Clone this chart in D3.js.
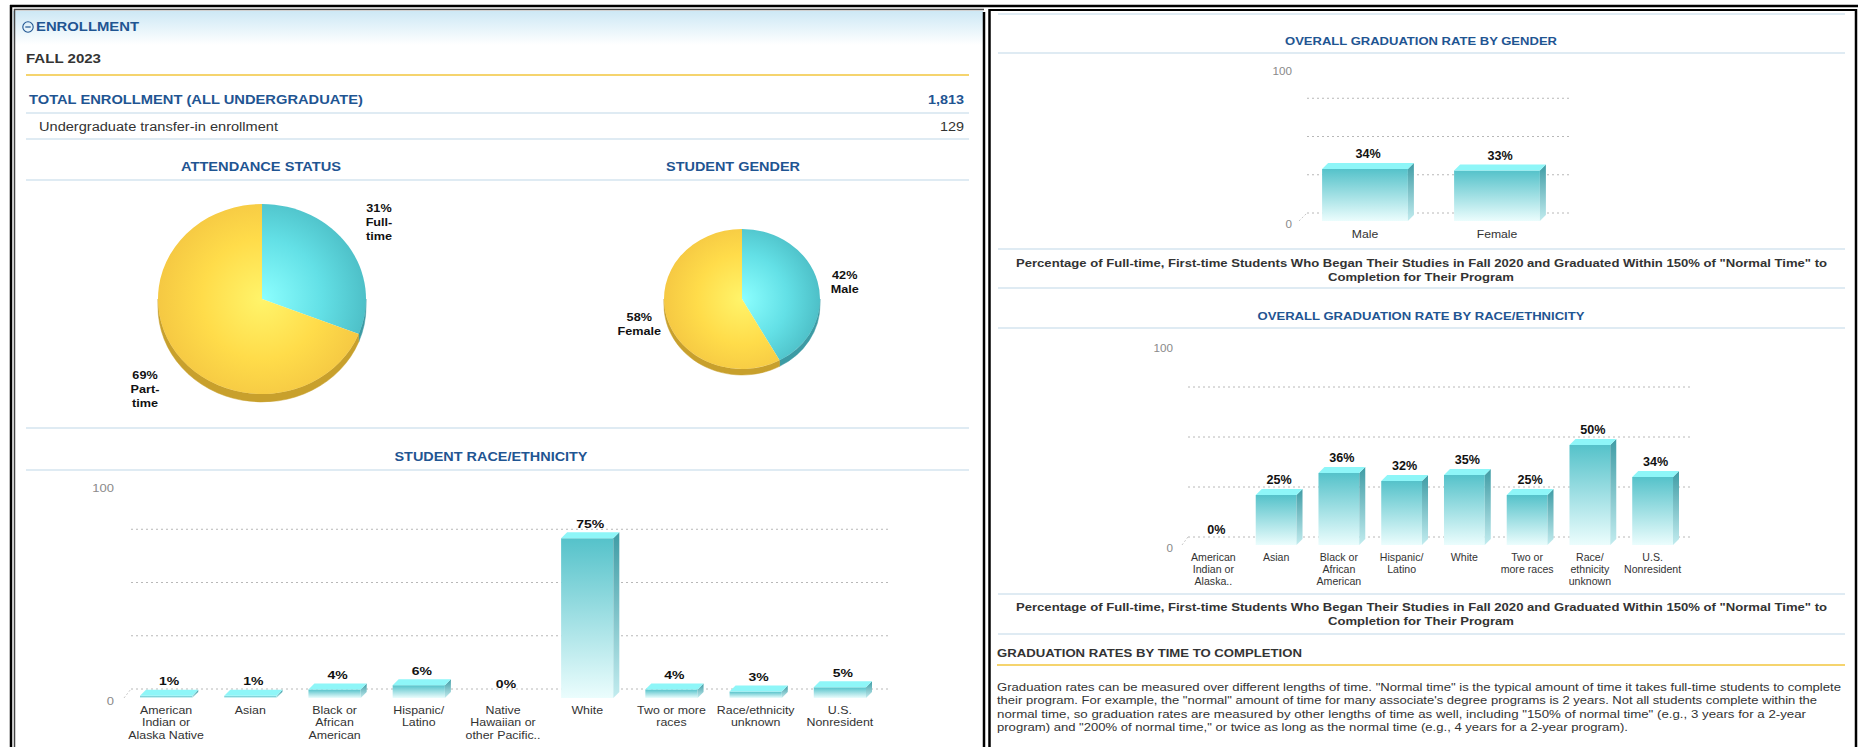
<!DOCTYPE html>
<html><head><meta charset="utf-8">
<script src="https://cdn.jsdelivr.net/npm/d3@7"></script>
<style>html,body{margin:0;padding:0;background:#fff;}svg{display:block;font-family:"Liberation Sans",Arial,sans-serif;}</style>
</head><body>
<svg id="c" width="1858" height="747"></svg>
<script>
// ---------------- DATA ----------------
const attendanceLabels = ["Full-\ntime", "Part-\ntime"];
const attendanceValues = [31, 69];
const genderLabels = ["Male", "Female"];
const genderValues = [42, 58];
const raceCategories = ["American\nIndian or\nAlaska Native", "Asian", "Black or\nAfrican\nAmerican", "Hispanic/\nLatino", "Native\nHawaiian or\nother Pacific..", "White", "Two or more\nraces", "Race/ethnicity\nunknown", "U.S.\nNonresident"];
const raceValues = [1, 1, 4, 6, 0, 75, 4, 3, 5];
const gradGenderCategories = ["Male", "Female"];
const gradGenderValues = [34, 33];
const gradRaceCategories = ["American\nIndian or\nAlaska..", "Asian", "Black or\nAfrican\nAmerican", "Hispanic/\nLatino", "White", "Two or\nmore races", "Race/\nethnicity\nunknown", "U.S.\nNonresident"];
const gradRaceValues = [0, 25, 36, 32, 35, 25, 50, 34];
const yTickLabels = [0, 100];
const gridValues = [0, 25, 50, 75];
const totalEnrollment = "1,813";
const transferIn = "129";
const footnoteLines = ["Percentage of Full-time, First-time Students Who Began Their Studies in Fall 2020 and Graduated Within 150% of \"Normal Time\" to", "Completion for Their Program"];
const paragraphLines = [
  "Graduation rates can be measured over different lengths of time. \"Normal time\" is the typical amount of time it takes full-time students to complete",
  "their program. For example, the \"normal\" amount of time for many associate's degree programs is 2 years. Not all students complete within the",
  "normal time, so graduation rates are measured by other lengths of time as well, including \"150% of normal time\" (e.g., 3 years for a 2-year",
  "program) and \"200% of normal time,\" or twice as long as the normal time (e.g., 4 years for a 2-year program)."
];

// ---------------- HELPERS ----------------
const svg = d3.select("#c");
const BLUE = "#1f5592", DARK = "#333", LINE = "#d4e5ef";
const defs = svg.append("defs");

function txt(p, o) {
  const t = p.append("text").text(o.text)
    .attr("font-size", o.size || 12)
    .attr("font-weight", o.bold ? "bold" : "normal")
    .attr("fill", o.fill || DARK)
    .attr("text-anchor", o.anchor || "start")
    .attr("dominant-baseline", "central");
  if (o.w) {
    t.attr("x", o.x).attr("y", o.y).attr("textLength", o.w).attr("lengthAdjust", "spacingAndGlyphs");
  } else {
    t.attr("transform", `translate(${o.x},${o.y}) scale(${o.sx || 1},1)`);
  }
  return t;
}
function hline(x1, x2, y, color, w) {
  svg.append("line").attr("x1", x1).attr("x2", x2).attr("y1", y).attr("y2", y)
    .attr("stroke", color).attr("stroke-width", w || 1.5);
}
function grad(id, stops, vertical, radial, extra) {
  const g = radial ? defs.append("radialGradient") : defs.append("linearGradient");
  g.attr("id", id);
  if (!radial) g.attr("x1", 0).attr("y1", 0).attr("x2", vertical ? 0 : 1).attr("y2", vertical ? 1 : 0);
  if (extra) Object.entries(extra).forEach(([k, v]) => g.attr(k, v));
  stops.forEach(s => g.append("stop").attr("offset", s[0]).attr("stop-color", s[1]));
}

// gradients
grad("hdr", [[0, "#cde8f5"], [1, "#ffffff"]], true);
grad("barFront", [[0, "#55c2ca"], [1, "#ebfdfd"]], true);
grad("barSide", [[0, "#3f9ca5"], [1, "#c2ecef"]], true);

// ---------------- FRAMES ----------------
svg.append("rect").attr("x", 13).attr("y", 11).attr("width", 970).attr("height", 34).attr("fill", "url(#hdr)");
svg.append("line").attr("x1", 10).attr("x2", 1858).attr("y1", 6).attr("y2", 6).attr("stroke", "#000").attr("stroke-width", 2.5);
svg.append("line").attr("x1", 11).attr("x2", 11).attr("y1", 5).attr("y2", 747).attr("stroke", "#000").attr("stroke-width", 2.5);
svg.append("line").attr("x1", 14.5).attr("x2", 14.5).attr("y1", 9).attr("y2", 747).attr("stroke", "#444").attr("stroke-width", 1.5);
svg.append("line").attr("x1", 14).attr("x2", 984).attr("y1", 9.5).attr("y2", 9.5).attr("stroke", "#444").attr("stroke-width", 1.5);
svg.append("line").attr("x1", 984).attr("x2", 984).attr("y1", 12).attr("y2", 747).attr("stroke", "#000").attr("stroke-width", 2.5);
svg.append("line").attr("x1", 989.5).attr("x2", 989.5).attr("y1", 9).attr("y2", 747).attr("stroke", "#000").attr("stroke-width", 2.5);
svg.append("line").attr("x1", 989).attr("x2", 1857).attr("y1", 10).attr("y2", 10).attr("stroke", "#000").attr("stroke-width", 2);
svg.append("line").attr("x1", 1856).attr("x2", 1856).attr("y1", 9).attr("y2", 747).attr("stroke", "#000").attr("stroke-width", 2.5);

// ---------------- LEFT PANEL HEADER ----------------
svg.append("circle").attr("cx", 28).attr("cy", 27).attr("r", 5.2).attr("fill", "none").attr("stroke", BLUE).attr("stroke-width", 1.1);
svg.append("line").attr("x1", 25.3).attr("x2", 30.7).attr("y1", 27).attr("y2", 27).attr("stroke", BLUE).attr("stroke-width", 1.2);
txt(svg, {text: "ENROLLMENT", x: 36, y: 27, size: 12.5, bold: true, fill: BLUE, w: 103});
txt(svg, {text: "FALL 2023", x: 26, y: 59, size: 12, bold: true, fill: DARK, w: 75});
hline(26, 969, 75, "#f5d46e", 2);
txt(svg, {text: "TOTAL ENROLLMENT (ALL UNDERGRADUATE)", x: 29, y: 100, size: 12, bold: true, fill: BLUE, w: 334});
txt(svg, {text: totalEnrollment, x: 964, y: 100, size: 12, bold: true, fill: BLUE, anchor: "end", sx: 1.2});
hline(26, 969, 113, LINE, 1.5);
txt(svg, {text: "Undergraduate transfer-in enrollment", x: 39, y: 127, size: 12, fill: DARK, w: 239});
txt(svg, {text: transferIn, x: 964, y: 127, size: 12, fill: DARK, anchor: "end", sx: 1.2});
hline(26, 969, 139, LINE, 1.5);

txt(svg, {text: "ATTENDANCE STATUS", x: 261, y: 167, size: 12.5, bold: true, fill: BLUE, anchor: "middle", w: 160});
txt(svg, {text: "STUDENT GENDER", x: 733, y: 167, size: 12.5, bold: true, fill: BLUE, anchor: "middle", w: 134});
hline(26, 969, 180, LINE, 1.5);
hline(26, 969, 428, LINE, 1.5);
txt(svg, {text: "STUDENT RACE/ETHNICITY", x: 491, y: 457, size: 12.5, bold: true, fill: BLUE, anchor: "middle", w: 193});
hline(26, 969, 470, LINE, 1.5);

// ---------------- 3D PIES ----------------
const pieTopColors = [
  ["#8cffff", "#63e0e6", "#4bbcc4"],
  ["#fff46a", "#ffdc4a", "#f4c642"]
];
const pieSideColors = ["#3c9ba4", "#c8a02c"];

function drawPie3D(id, cfg, values, labels) {
  const g = svg.append("g");
  const {cx, cy, rx, ry, depth} = cfg;
  const arcs = d3.pie().sort(null)(values);
  const P = (a, dy) => [cx + rx * Math.sin(a), cy - ry * Math.cos(a) + (dy || 0)];
  arcs.forEach((d, i) => {
    grad(id + "g" + i, [[0, pieTopColors[i][0]], [0.55, pieTopColors[i][1]], [1, pieTopColors[i][2]]], false, true,
      {gradientUnits: "userSpaceOnUse", cx: cx, cy: cy, r: rx * 1.05, fx: cx, fy: cy});
  });
  arcs.forEach((d, i) => {
    const a0 = Math.max(d.startAngle, Math.PI / 2), a1 = Math.min(d.endAngle, 3 * Math.PI / 2);
    if (a1 <= a0) return;
    const p0 = P(a0), p1 = P(a1), q1 = P(a1, depth), q0 = P(a0, depth);
    g.append("path").attr("d",
      `M${p0}A${rx},${ry} 0 0 1 ${p1}L${q1}A${rx},${ry} 0 0 0 ${q0}Z`)
      .attr("fill", pieSideColors[i]).attr("stroke", pieSideColors[i]).attr("stroke-width", 0.5);
  });
  arcs.forEach((d, i) => {
    const p0 = P(d.startAngle), p1 = P(d.endAngle);
    const large = (d.endAngle - d.startAngle) > Math.PI ? 1 : 0;
    g.append("path").attr("d", `M${cx},${cy}L${p0}A${rx},${ry} 0 ${large} 1 ${p1}Z`)
      .attr("fill", `url(#${id}g${i})`);
  });
  arcs.forEach((d, i) => {
    const m = (d.startAngle + d.endAngle) / 2;
    const lx = cx + rx * cfg.lf * Math.sin(m);
    const ly = cy - ry * cfg.lf * Math.cos(m) + cfg.ldy[i];
    const lines = [d.value + "%"].concat(labels[i].split("\n"));
    const y0 = ly - (lines.length - 1) * 7;
    lines.forEach((s, k) => txt(g, {text: s, x: lx, y: y0 + k * 14, size: 11.5, bold: true, fill: "#111", anchor: "middle", sx: 1.1}));
  });
}
drawPie3D("att", {cx: 262, cy: 299, rx: 104, ry: 95, depth: 8, lf: 1.36, ldy: [-4, 18]}, attendanceValues, attendanceLabels);
drawPie3D("gen", {cx: 742, cy: 299, rx: 78, ry: 70, depth: 6, lf: 1.36, ldy: [7, 2]}, genderValues, genderLabels);

// ---------------- 3D BAR CHARTS ----------------
function drawBars3D(cfg, cats, vals) {
  const g = svg.append("g");
  const x = d3.scaleBand().domain(cats).range(cfg.range).paddingInner(cfg.pi).paddingOuter(cfg.pi / 2);
  const y = d3.scaleLinear().domain([0, 100]).range([cfg.y0, cfg.y1]);
  gridValues.forEach(v => {
    g.append("line").attr("x1", cfg.range[0] + cfg.gdx).attr("x2", cfg.range[1] + cfg.gdx)
      .attr("y1", y(v) - cfg.gdy).attr("y2", y(v) - cfg.gdy)
      .attr("stroke", "#b8b8b8").attr("stroke-width", 1).attr("stroke-dasharray", "2,3");
  });
  g.append("line").attr("x1", cfg.range[0]).attr("y1", y(0)).attr("x2", cfg.range[0] + cfg.gdx).attr("y2", y(0) - cfg.gdy)
    .attr("stroke", "#c8c8c8").attr("stroke-width", 1).attr("stroke-dasharray", "2,2");
  yTickLabels.forEach(t => txt(g, {text: String(t), x: cfg.tickX, y: y(t) + 3, size: cfg.tickSize, fill: "#8a8a8a", anchor: "end", sx: cfg.sx}));
  const dx = cfg.dx, dy = cfg.dy, w = x.bandwidth();
  cats.forEach((c, i) => {
    const v = vals[i], x0 = x(c), yt = y(v), yb = y(0);
    if (v > 0) {
      g.append("rect").attr("x", x0).attr("y", yt).attr("width", w).attr("height", yb - yt).attr("fill", "url(#barFront)");
      g.append("path").attr("d", `M${x0 + w},${yt}L${x0 + w + dx},${yt - dy}L${x0 + w + dx},${yb - dy}L${x0 + w},${yb}Z`).attr("fill", "url(#barSide)");
      g.append("path").attr("d", `M${x0},${yt}L${x0 + dx},${yt - dy}L${x0 + w + dx},${yt - dy}L${x0 + w},${yt}Z`).attr("fill", "#8ef6f8");
    }
    txt(g, {text: v + "%", x: x0 + w / 2 + dx / 2, y: yt - dy - 8.5, size: cfg.valSize, bold: true, fill: "#111", anchor: "middle", sx: cfg.valSx});
    c.split("\n").forEach((s, k) => txt(g, {text: s, x: x0 + w / 2, y: yb + cfg.catOff + k * cfg.lineH, size: cfg.catSize, fill: DARK, anchor: "middle", sx: cfg.sx}));
  });
}

drawBars3D({range: [124, 882], pi: 0.38, y0: 698, y1: 485, dx: 6, dy: 6, gdx: 7, gdy: 9, tickX: 114, tickSize: 11, sx: 1.18,
  catSize: 10.5, catOff: 12, lineH: 12.5, valSize: 11.5, valSx: 1.22}, raceCategories, raceValues);

// ---------------- RIGHT PANEL ----------------
hline(998, 1845, 14, LINE, 1.5);
txt(svg, {text: "OVERALL GRADUATION RATE BY GENDER", x: 1421, y: 41, size: 11.5, bold: true, fill: BLUE, anchor: "middle", w: 272});
hline(998, 1845, 53, LINE, 1.5);
drawBars3D({range: [1299, 1563], pi: 0.35, y0: 221, y1: 68, dx: 6, dy: 6, gdx: 8, gdy: 8, tickX: 1292, tickSize: 11, sx: 1.06,
  catSize: 11.5, catOff: 13, lineH: 12.5, valSize: 12, valSx: 1.05}, gradGenderCategories, gradGenderValues);
hline(998, 1845, 249, LINE, 1.5);
txt(svg, {text: footnoteLines[0], x: 1421.5, y: 263, size: 11, bold: true, fill: DARK, anchor: "middle", w: 811});
txt(svg, {text: footnoteLines[1], x: 1421, y: 277, size: 11, bold: true, fill: DARK, anchor: "middle", w: 186});
hline(998, 1845, 288, LINE, 1.5);

txt(svg, {text: "OVERALL GRADUATION RATE BY RACE/ETHNICITY", x: 1421, y: 316, size: 11.5, bold: true, fill: BLUE, anchor: "middle", w: 327});
hline(998, 1845, 328, LINE, 1.5);
drawBars3D({range: [1182, 1684], pi: 0.35, y0: 545, y1: 345, dx: 6, dy: 6, gdx: 6, gdy: 8, tickX: 1173, tickSize: 11, sx: 1.06,
  catSize: 10, catOff: 13, lineH: 12, valSize: 12, valSx: 1.05}, gradRaceCategories, gradRaceValues);
hline(998, 1845, 594, LINE, 1.5);
txt(svg, {text: footnoteLines[0], x: 1421.5, y: 607, size: 11, bold: true, fill: DARK, anchor: "middle", w: 811});
txt(svg, {text: footnoteLines[1], x: 1421, y: 621, size: 11, bold: true, fill: DARK, anchor: "middle", w: 186});
hline(998, 1845, 634, LINE, 1.5);

txt(svg, {text: "GRADUATION RATES BY TIME TO COMPLETION", x: 997, y: 653, size: 11.5, bold: true, fill: DARK, w: 305});
hline(997, 1845, 665, "#f5d46e", 2);
const paraW = [844, 820, 809, 631];
paragraphLines.forEach((s, i) => txt(svg, {text: s, x: 997, y: 687 + i * 13.3, size: 11, fill: DARK, w: paraW[i]}));
</script>
</body></html>
